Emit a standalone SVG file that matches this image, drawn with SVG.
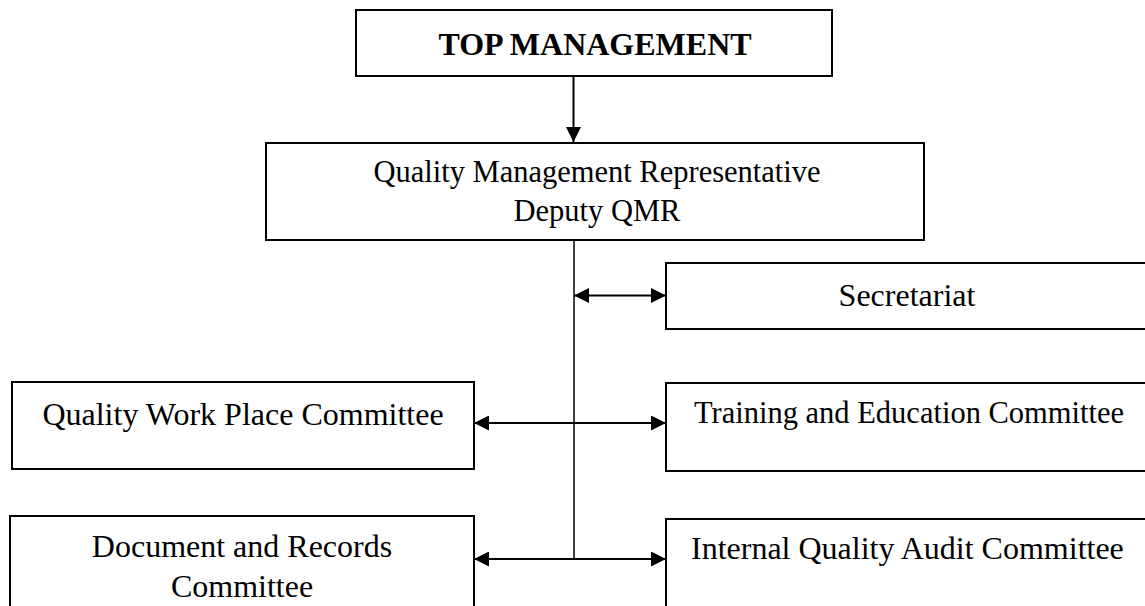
<svg xmlns="http://www.w3.org/2000/svg" width="1145" height="606" viewBox="0 0 1145 606">
  <defs>
    <style>
      .box { fill: #ffffff; stroke: #000000; stroke-width: 2; }
      .lbl { font-family: "Liberation Serif", "Times New Roman", serif; font-size: 32px; fill: #000000; }
      .mid { text-anchor: middle; }
      .bold { font-weight: bold; }
      .link { fill: none; stroke: #000000; stroke-width: 2; }
      .trunk { fill: none; stroke: #000000; stroke-width: 1.5; }
    </style>
    <marker id="head" viewBox="0 0 15 15" refX="15" refY="7.5" markerWidth="15" markerHeight="15" markerUnits="userSpaceOnUse" orient="auto-start-reverse">
      <path d="M0,0 L15,7.5 L0,15 Z" fill="#000000"/>
    </marker>
  </defs>
  <rect width="1145" height="606" fill="#ffffff"/>

  <g id="connectors">
    <line class="link" x1="573.5" y1="76" x2="573.5" y2="142" marker-end="url(#head)"/>
    <line class="trunk" x1="574" y1="240" x2="574" y2="559"/>
    <line class="link" x1="574" y1="295.5" x2="666" y2="295.5" marker-start="url(#head)" marker-end="url(#head)"/>
    <line class="link" x1="474" y1="423" x2="666" y2="423" marker-start="url(#head)" marker-end="url(#head)"/>
    <line class="link" x1="474" y1="559" x2="666" y2="559" marker-start="url(#head)" marker-end="url(#head)"/>
  </g>

  <g id="top-management">
    <rect class="box" x="356" y="10" width="476" height="66"/>
    <text class="lbl mid bold" x="595" y="55" font-size="31.5">TOP MANAGEMENT</text>
  </g>

  <g id="qmr">
    <rect class="box" x="266" y="143" width="658" height="97"/>
    <text class="lbl mid" x="597" y="182" style="font-size:30.5px">Quality Management Representative</text>
    <text class="lbl mid" x="597" y="221" style="font-size:30.5px">Deputy QMR</text>
  </g>

  <g id="secretariat">
    <rect class="box" x="666" y="263" width="490" height="66"/>
    <text class="lbl mid" x="907" y="306">Secretariat</text>
  </g>

  <g id="work-place">
    <rect class="box" x="12" y="382" width="462" height="87"/>
    <text class="lbl mid" x="243" y="425">Quality Work Place Committee</text>
  </g>

  <g id="training">
    <rect class="box" x="666" y="383" width="490" height="88"/>
    <text class="lbl" x="694" y="423" style="font-size:30.5px">Training and Education Committee</text>
  </g>

  <g id="documents">
    <rect class="box" x="10" y="516" width="464" height="100"/>
    <text class="lbl mid" x="242" y="557">Document and Records</text>
    <text class="lbl mid" x="242" y="597">Committee</text>
  </g>

  <g id="audit">
    <rect class="box" x="666" y="519" width="490" height="100"/>
    <text class="lbl" x="691" y="559">Internal Quality Audit Committee</text>
  </g>
</svg>
